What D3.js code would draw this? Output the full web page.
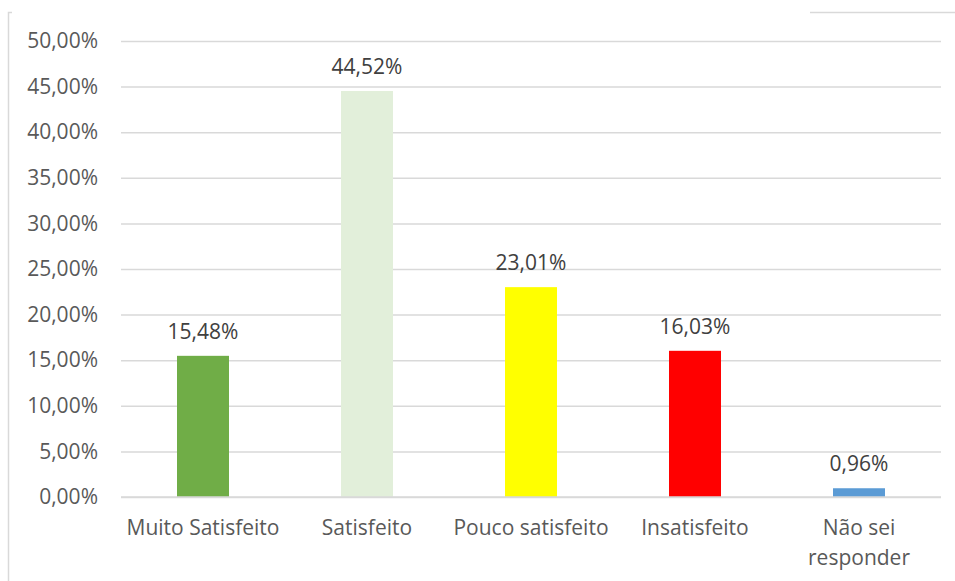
<!DOCTYPE html>
<html>
<head>
<meta charset="utf-8">
<script src="https://cdn.jsdelivr.net/npm/d3@7"></script>
<style>
  html, body { margin: 0; padding: 0; background: #fff; }
  svg { display: block; }
</style>
</head>
<body>
<svg id="chart" width="955" height="581"></svg>
<script>
// Satisfaction survey results (percent of respondents)
const categories = ["Muito Satisfeito", "Satisfeito", "Pouco satisfeito", "Insatisfeito", "Não sei responder"];
const values = [15.48, 44.52, 23.01, 16.03, 0.96];
const barColors = ["#70AD47", "#E2EFDA", "#FFFF00", "#FF0000", "#5B9BD5"];
const yTicks = [0, 5, 10, 15, 20, 25, 30, 35, 40, 45, 50];

const svg = d3.select("#chart");
const fontFamily = "'Open Sans', 'Noto Sans', sans-serif";
const fontSize = "21px";

const margin = { left: 121, right: 14, top: 41, bottom: 84 };
const W = 955, H = 581;

const x = d3.scaleBand()
  .domain(categories)
  .range([margin.left, W - margin.right])
  .paddingInner(0.683)
  .paddingOuter(0.3415);

const y = d3.scaleLinear()
  .domain([0, 50])
  .range([H - margin.bottom, margin.top]);

const fmt = v => d3.format(".2f")(v).replace(".", ",") + "%";

// Chart frame (top edge interrupted where the title sits)
const frame = svg.append("g").attr("stroke", "#D9D9D9").attr("stroke-width", 1.5).attr("fill", "none");
frame.append("path").attr("d", "M8.5,600 V12.5 H12");
frame.append("path").attr("d", "M810,12.5 H955");

// Gridlines
const grid = d3.axisLeft(y).tickValues(yTicks)
  .tickSize(-(W - margin.right - margin.left)).tickFormat("");
svg.append("g")
  .attr("transform", `translate(${margin.left},0)`)
  .call(grid)
  .call(g => g.select(".domain").remove())
  .call(g => g.selectAll("line").attr("stroke", "#D9D9D9").attr("stroke-width", 1.5));

// Y axis labels
svg.append("g")
  .attr("transform", `translate(${margin.left},0)`)
  .call(d3.axisLeft(y).tickValues(yTicks).tickSize(0).tickPadding(23).tickFormat(fmt))
  .call(g => g.select(".domain").remove())
  .call(g => g.selectAll("text")
    .attr("fill", "#595959")
    .attr("font-family", fontFamily)
    .attr("font-size", fontSize));

// Bars
svg.append("g").selectAll("rect")
  .data(values)
  .join("rect")
  .attr("x", (d, i) => x(categories[i]))
  .attr("width", x.bandwidth())
  .attr("y", d => y(d))
  .attr("height", d => y(0) - y(d))
  .attr("fill", (d, i) => barColors[i]);

// Redraw the baseline over the bars
svg.append("line")
  .attr("x1", margin.left).attr("x2", W - margin.right)
  .attr("y1", y(0)).attr("y2", y(0))
  .attr("stroke", "#D9D9D9").attr("stroke-width", 1.5);

// Value labels
svg.append("g").selectAll("text")
  .data(values)
  .join("text")
  .attr("x", (d, i) => x(categories[i]) + x.bandwidth() / 2)
  .attr("y", d => y(d) - 17)
  .attr("text-anchor", "middle")
  .attr("fill", "#404040")
  .attr("font-family", fontFamily)
  .attr("font-size", fontSize)
  .text(fmt);

// Category labels (wrapped where needed)
const catWrap = { "Não sei responder": ["Não sei", "responder"] };
const xl = svg.append("g").selectAll("text")
  .data(categories)
  .join("text")
  .attr("x", d => x(d) + x.bandwidth() / 2)
  .attr("y", 535)
  .attr("text-anchor", "middle")
  .attr("fill", "#595959")
  .attr("font-family", fontFamily)
  .attr("font-size", fontSize);
xl.each(function (d) {
  const lines = catWrap[d] || [d];
  const t = d3.select(this);
  lines.forEach((ln, k) => {
    t.append("tspan")
      .attr("x", x(d) + x.bandwidth() / 2)
      .attr("dy", k === 0 ? 0 : 30)
      .text(ln);
  });
});
</script>
</body>
</html>
